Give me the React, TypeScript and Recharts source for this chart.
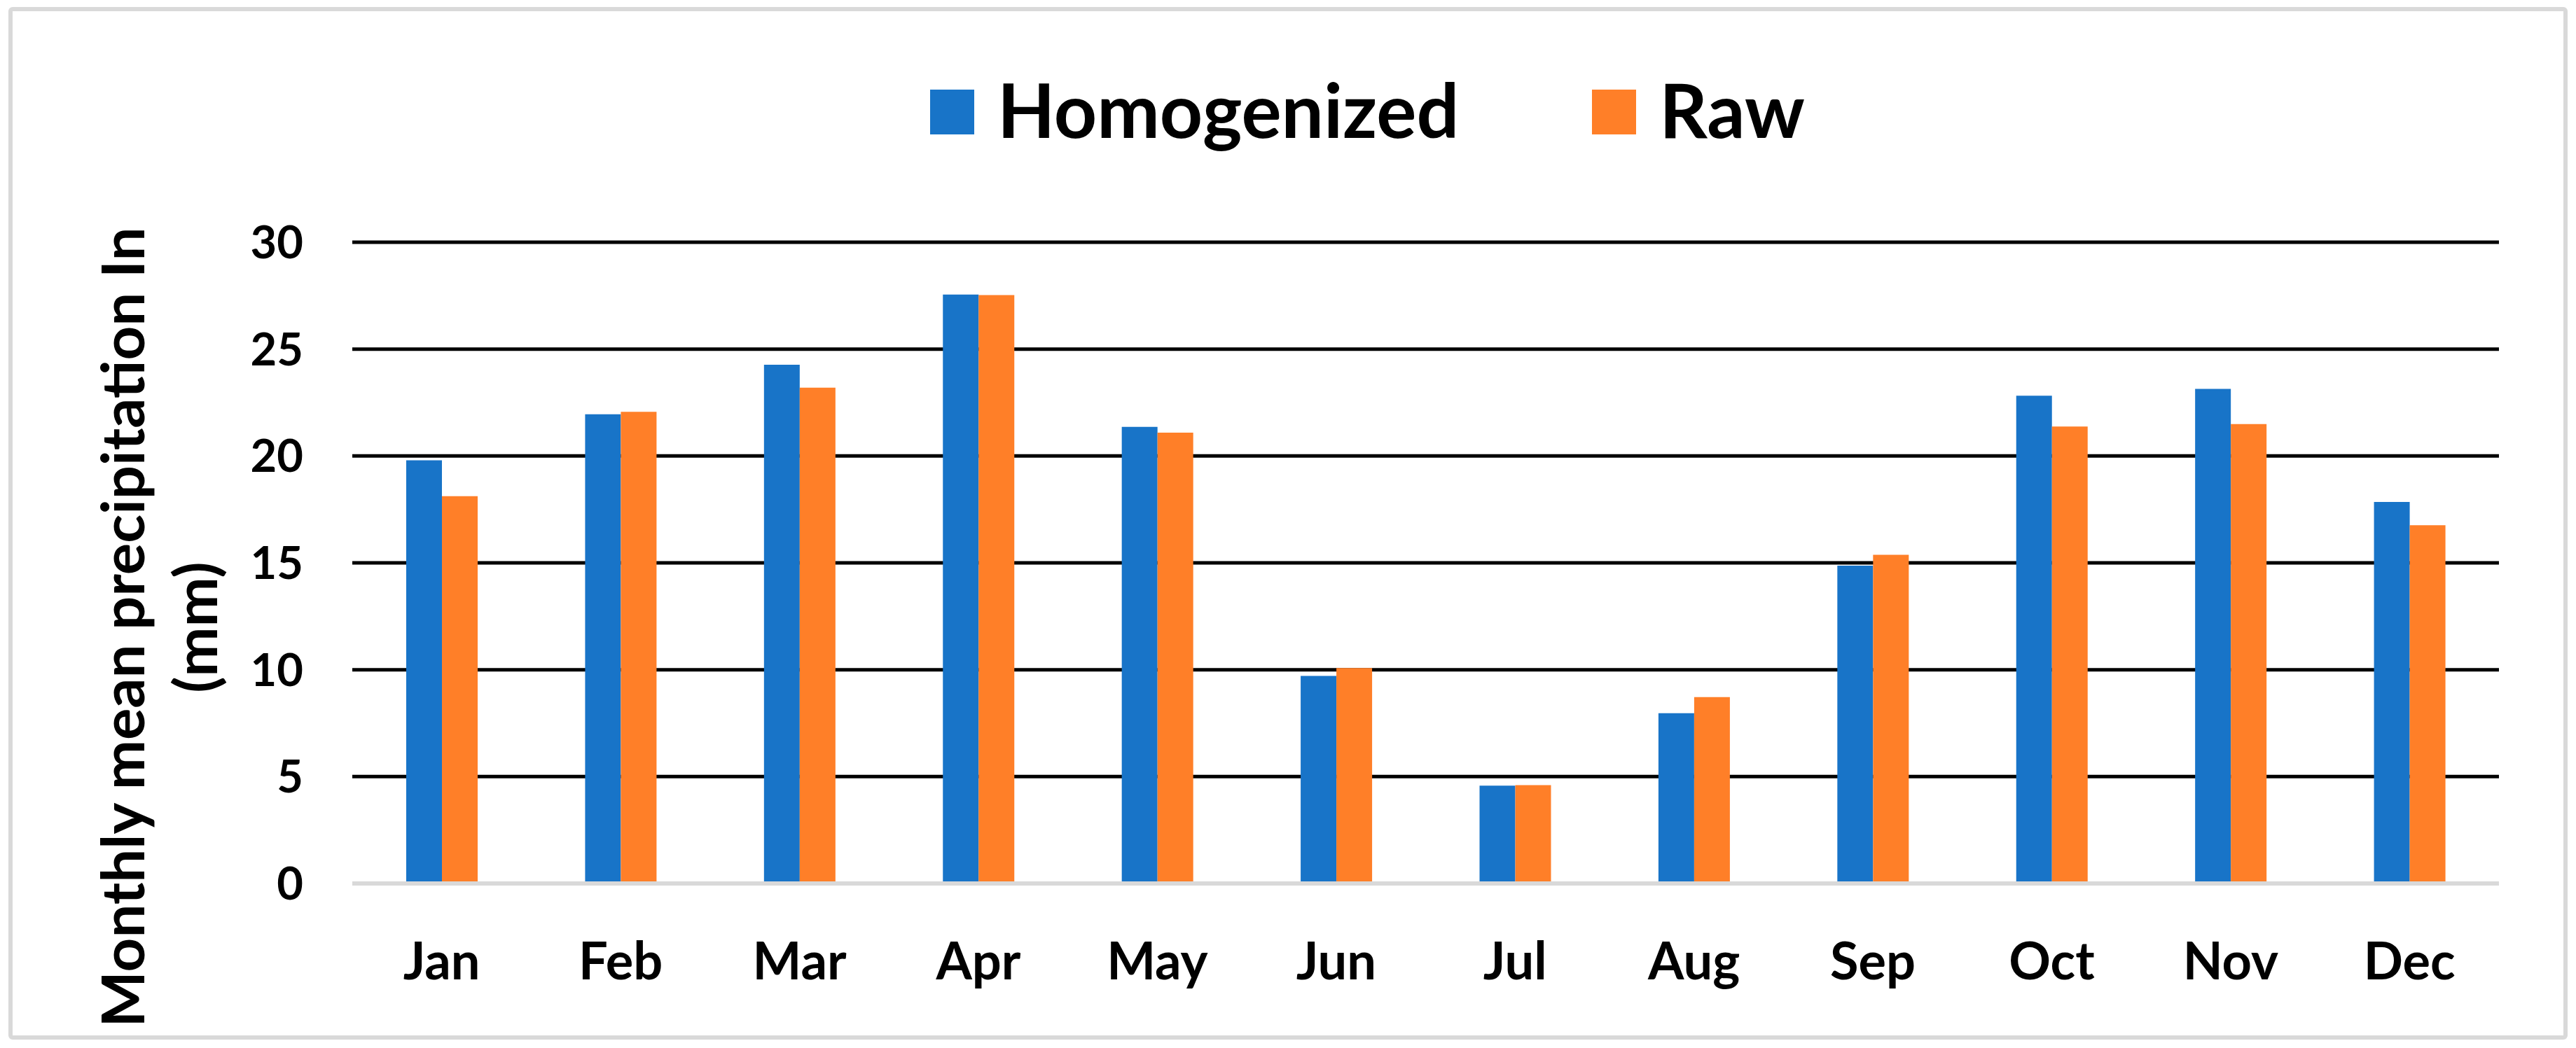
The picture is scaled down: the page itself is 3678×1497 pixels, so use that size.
import { BarChart, Bar, XAxis, YAxis, CartesianGrid, Legend } from "recharts";

const FONT = "Lato, 'Open Sans', sans-serif";

const months = ["Jan", "Feb", "Mar", "Apr", "May", "Jun", "Jul", "Aug", "Sep", "Oct", "Nov", "Dec"];
const homogenized = [19.8, 21.95, 24.27, 27.55, 21.36, 9.71, 4.58, 7.97, 14.87, 22.82, 23.14, 17.85];
const raw = [18.12, 22.07, 23.2, 27.53, 21.09, 10.08, 4.6, 8.72, 15.38, 21.38, 21.49, 16.76];
const yTicks = [0, 5, 10, 15, 20, 25, 30];

const SERIES = [
  { key: "homogenized", name: "Homogenized", color: "#1874C8" },
  { key: "raw", name: "Raw", color: "#FF7F28" },
];

const data = months.map((m, i) => ({ month: m, homogenized: homogenized[i], raw: raw[i] }));

const renderLegend = () => (
  <div
    style={{
      display: "flex",
      alignItems: "center",
      fontFamily: FONT,
      fontWeight: 700,
      fontSize: 107,
      lineHeight: 1,
      color: "#000",
    }}
  >
    {SERIES.map((s, i) => (
      <div key={s.key} style={{ display: "flex", alignItems: "center", marginLeft: i ? 190 : 0 }}>
        <span style={{ width: 63, height: 64, background: s.color, marginRight: 33, marginTop: 9 }} />
        <span>{s.name}</span>
      </div>
    ))}
  </div>
);

const renderYLabel = () => (
  <g fontFamily={FONT} fontWeight={700} fontSize={85} fill="#000">
    <text transform="translate(206,896) rotate(-90)" textAnchor="middle">
      Monthly mean precipitation In
    </text>
    <text transform="translate(310,896) rotate(-90)" textAnchor="middle">
      (mm)
    </text>
  </g>
);

export default function App() {
  return (
    <div style={{ position: "relative", width: 3678, height: 1497, background: "#fff" }}>
      <style>{"body{margin:0;background:#fff}"}</style>
      <div
        style={{
          position: "absolute",
          left: 12,
          top: 10,
          width: 3654,
          height: 1475,
          border: "6px solid #d9d9d9",
          borderRadius: 6,
          boxSizing: "border-box",
        }}
      />
      <BarChart
        width={3678}
        height={1497}
        data={data}
        margin={{ top: 346, right: 110, bottom: 205, left: 0 }}
        barCategoryGap={77}
        barGap={0}
        style={{ fontFamily: FONT }}
      >
        <CartesianGrid vertical={false} stroke="#000" strokeWidth={5} />
        <XAxis
          dataKey="month"
          height={30}
          tickLine={false}
          tickSize={0}
          tickMargin={84}
          axisLine={{ stroke: "#d9d9d9", strokeWidth: 6 }}
          tick={{ fill: "#000", fontSize: 74, fontWeight: 700, fontFamily: FONT }}
        />
        <YAxis
          width={503}
          domain={[0, 30]}
          ticks={yTicks}
          axisLine={false}
          tickLine={false}
          tickSize={0}
          tickMargin={70}
          tick={{ fill: "#000", fontSize: 65, fontWeight: 700, fontFamily: FONT }}
          label={{ content: renderYLabel }}
        />
        <Legend
          verticalAlign="middle"
          align="center"
          content={renderLegend}
          wrapperStyle={{ left: 1328, top: 102, width: "auto", height: "auto" }}
        />
        {SERIES.map((s) => (
          <Bar key={s.key} dataKey={s.key} name={s.name} fill={s.color} isAnimationActive={false} />
        ))}
      </BarChart>
    </div>
  );
}
